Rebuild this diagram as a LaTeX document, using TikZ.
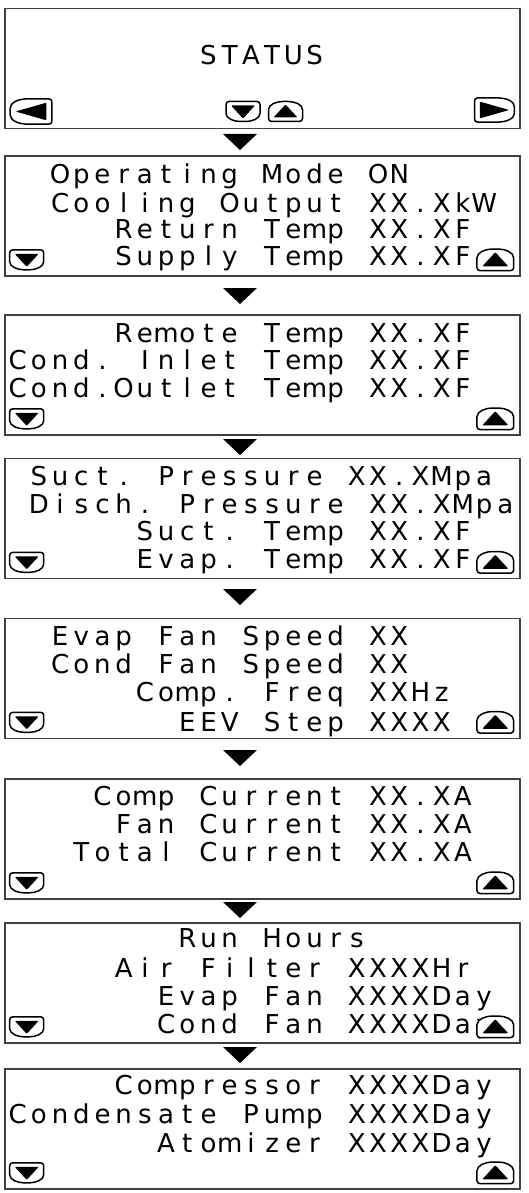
\documentclass[tikz,border=0pt]{standalone}
\usepackage{fontspec}
\usetikzlibrary{calc}
\newfontfamily\lcdfont{DejaVu Sans}

% one LCD character cell per glyph, ~ stands for a blank cell
\newlength\lcdpitch
\setlength\lcdpitch{21.2pt}
\def\lcdstop{lcdstop}
\newcommand\lcdtext[1]{\lcdscan#1\lcdstop}
\def\lcdscan#1{\ifx#1\lcdstop\else\makebox[\lcdpitch]{#1}\expandafter\lcdscan\fi}

\tikzset{
  panel/.style={draw=black!75, line width=1.6pt, minimum width=515pt,
    minimum height=120pt, inner sep=0pt},
  lcdrow/.style={anchor=base west, inner sep=0pt,
    font=\lcdfont\fontsize{26}{26}\selectfont},
  keyline/.style={draw=black, fill=white, line width=1.5pt, rounded corners=3pt},
  keydown/.pic={
    \path[keyline] (-17,-10) -- (17,-10) -- (17,-1)
      .. controls (17,7) and (9,10) .. (0,10)
      .. controls (-9,10) and (-17,7) .. (-17,-1) -- cycle;
    \fill[rounded corners=1pt] (-12,-6) -- (12,-6) -- (0,7) -- cycle;
  },
  keyleft/.pic={
    \path[keyline] (19,-11.5) -- (19,11.5) -- (0,11.5)
      .. controls (-12,11.5) and (-19,8) .. (-19,0)
      .. controls (-19,-8) and (-12,-11.5) .. (0,-11.5) -- cycle;
    \fill[rounded corners=1pt] (14,-8) -- (14,8) -- (-14,0) -- cycle;
  },
  downmark/.pic={
    \fill (-17,0) -- (17,0) -- (0,16) -- cycle;
  }
}

\begin{document}
\begin{tikzpicture}[x=1pt, y=-1pt]
  \fill[white] (0,0) rectangle (529,1193);
  \useasboundingbox (0,0) rectangle (529,1193);

  % panels
  \node[panel] (p1) at (262.5, 68.5) {};
  \node[panel] (p2) at (262.5, 216) {};
  \node[panel] (p3) at (262.5, 375) {};
  \node[panel] (p4) at (262.5, 518.5) {};
  \node[panel] (p5) at (262.5, 678.5) {};
  \node[panel] (p6) at (262.5, 839) {};
  \node[panel] (p7) at (262.5, 983) {};
  \node[panel] (p8) at (262.5, 1129) {};

  % arrows between the screens
  \foreach \ya in {134, 288, 439, 589, 750, 902, 1047}
    \pic at (240, \ya) {downmark};

  % screen texts
  \node[lcdrow] (p1r0) at (6.9, 65) {\lcdtext{~~~~~~~~~STATUS}};

  \node[lcdrow] (p2r0) at (6.9, 183) {\lcdtext{~~Operating~Mode~ON}};
  \node[lcdrow] (p2r1) at (6.9, 212) {\lcdtext{~~Cooling~Output~XX.XkW}};
  \node[lcdrow] (p2r2) at (6.9, 238) {\lcdtext{~~~~~Return~Temp~XX.XF}};
  \node[lcdrow] (p2r3) at (6.9, 265) {\lcdtext{~~~~~Supply~Temp~XX.XF}};

  \node[lcdrow] (p3r0) at (6.9, 342) {\lcdtext{~~~~~Remote~Temp~XX.XF}};
  \node[lcdrow] (p3r1) at (6.9, 369) {\lcdtext{Cond.~Inlet~Temp~XX.XF}};
  \node[lcdrow] (p3r2) at (6.9, 397) {\lcdtext{Cond.Outlet~Temp~XX.XF}};

  \node[lcdrow] (p4r0) at (6.9, 485) {\lcdtext{~Suct.~Pressure~XX.XMpa}};
  \node[lcdrow] (p4r1) at (6.9, 513) {\lcdtext{~Disch.~Pressure~XX.XMpa}};
  \node[lcdrow] (p4r2) at (6.9, 540) {\lcdtext{~~~~~~Suct.~Temp~XX.XF}};
  \node[lcdrow] (p4r3) at (6.9, 568) {\lcdtext{~~~~~~Evap.~Temp~XX.XF}};

  \node[lcdrow] (p5r0) at (6.9, 645) {\lcdtext{~~Evap~Fan~Speed~XX}};
  \node[lcdrow] (p5r1) at (6.9, 673) {\lcdtext{~~Cond~Fan~Speed~XX}};
  \node[lcdrow] (p5r2) at (6.9, 701) {\lcdtext{~~~~~~Comp.~Freq~XXHz}};
  \node[lcdrow] (p5r3) at (6.9, 731) {\lcdtext{~~~~~~~~EEV~Step~XXXX}};

  \node[lcdrow] (p6r0) at (6.9, 805) {\lcdtext{~~~~Comp~Current~XX.XA}};
  \node[lcdrow] (p6r1) at (6.9, 833) {\lcdtext{~~~~~Fan~Current~XX.XA}};
  \node[lcdrow] (p6r2) at (6.9, 861) {\lcdtext{~~~Total~Current~XX.XA}};

  \node[lcdrow] (p7r0) at (6.9, 947) {\lcdtext{~~~~~~~~Run~Hours}};
  \node[lcdrow] (p7r1) at (6.9, 977) {\lcdtext{~~~~~Air~Filter~XXXXHr}};
  \node[lcdrow] (p7r2) at (6.9, 1005) {\lcdtext{~~~~~~~Evap~Fan~XXXXDay}};
  \node[lcdrow] (p7r3) at (6.9, 1033) {\lcdtext{~~~~~~~Cond~Fan~XXXXDay}};

  \node[lcdrow] (p8r0) at (6.9, 1094) {\lcdtext{~~~~~Compressor~XXXXDay}};
  \node[lcdrow] (p8r1) at (6.9, 1123) {\lcdtext{Condensate~Pump~XXXXDay}};
  \node[lcdrow] (p8r2) at (6.9, 1152) {\lcdtext{~~~~~~~Atomizer~XXXXDay}};

  % keys of the status screen
  \pic[scale=1.1] at (31, 111.5) {keyleft};
  \pic at (243, 111.5) {keydown};
  \pic[rotate=180] at (285.5, 111.5) {keydown};
  \pic[scale=1.05, rotate=180] at (494.5, 110) {keyleft};

  % scroll keys of the other screens
  \foreach \n in {2,...,8} {
    \pic at ([xshift=22.5pt, yshift=17pt]p\n.south west) {keydown};
    \pic[scale=1.08, rotate=180] at ([xshift=-25.5pt, yshift=17pt]p\n.south east) {keydown};
  }
\end{tikzpicture}
\end{document}
